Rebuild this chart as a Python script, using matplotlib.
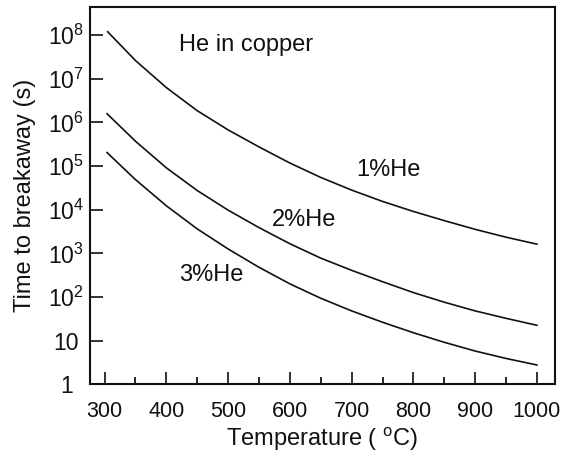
import numpy as np
import matplotlib
matplotlib.use("Agg")
import matplotlib.pyplot as plt
from matplotlib.ticker import FixedLocator, MultipleLocator

# ─── Style ──────────────────────────────────────────────
plt.rcParams["font.family"] = ["Liberation Sans", "DejaVu Sans"]
plt.rcParams["mathtext.fontset"] = "custom"
plt.rcParams["mathtext.rm"] = "Liberation Sans"
plt.rcParams["mathtext.it"] = "Liberation Sans"
plt.rcParams["mathtext.default"] = "rm"

# ─── Data: log10 of breakaway time (s) vs temperature (°C) ─
temp_1 = [305, 350, 400, 450, 500, 550, 600, 650, 700, 750, 800, 850, 900, 950, 1000]
logt_1 = [8.08, 7.42, 6.80, 6.27, 5.83, 5.44, 5.07, 4.74, 4.45, 4.19, 3.96, 3.75, 3.55, 3.37, 3.21]

temp_2 = [304, 350, 400, 450, 500, 550, 600, 650, 700, 750, 800, 850, 900, 950, 1000]
logt_2 = [6.20, 5.57, 4.96, 4.44, 3.99, 3.59, 3.22, 2.89, 2.61, 2.35, 2.10, 1.88, 1.68, 1.51, 1.35]

temp_3 = [304, 350, 400, 450, 500, 550, 600, 650, 700, 750, 800, 850, 900, 950, 1000]
logt_3 = [5.31, 4.69, 4.09, 3.56, 3.10, 2.68, 2.30, 1.97, 1.68, 1.42, 1.18, 0.96, 0.76, 0.59, 0.44]

curve_labels = ["1%He", "2%He", "3%He"]
ytick_vals = [10.0 ** k for k in range(9)]
ytick_text = ["1", "10"] + [f"$10^{{{k}}}$" for k in range(2, 9)]
xtick_vals = [300, 400, 500, 600, 700, 800, 900, 1000]

# ─── Plot ───────────────────────────────────────────────
fig = plt.figure(figsize=(5.61, 4.59), dpi=100)
ax = fig.add_axes([0.160, 0.163, 0.829, 0.822])

ink = "#111111"
for T, lt in [(temp_1, logt_1), (temp_2, logt_2), (temp_3, logt_3)]:
    ax.plot(T, 10.0 ** np.array(lt), color=ink, lw=1.2)

ax.set_yscale("log")
ax.set_xlim(276, 1029)
ax.set_ylim(1, 10 ** 8.65)

ax.yaxis.set_major_locator(FixedLocator(ytick_vals))
ax.yaxis.set_minor_locator(FixedLocator([]))
ax.set_yticklabels(ytick_text)
ax.set_xticks(xtick_vals)
ax.xaxis.set_minor_locator(MultipleLocator(50))

fs = 17
ax.tick_params(axis="both", which="major", direction="in", length=9, width=1.2,
               labelsize=15.5, colors=ink)
ax.tick_params(axis="x", which="minor", direction="in", length=5, width=1.2)
ax.tick_params(axis="x", which="major", pad=12)
ax.tick_params(axis="y", which="major", pad=17)
ax.tick_params(axis="y", which="major", labelsize=16.5)
for lbl in ax.get_yticklabels():
    lbl.set_horizontalalignment("center")

for s in ax.spines.values():
    s.set_linewidth(1.5)
    s.set_color(ink)

ax.set_xlabel("Temperature ( $^{o}$C)", fontsize=fs, color=ink, labelpad=3)
ax.set_ylabel("Time to breakaway (s)", fontsize=fs, color=ink, labelpad=9)

ax.text(421, 10 ** 7.78, "He in copper", fontsize=fs, color=ink, va="center")
ax.text(707, 10 ** 4.91, curve_labels[0], fontsize=fs, color=ink, va="center")
ax.text(571, 10 ** 3.76, curve_labels[1], fontsize=fs, color=ink, va="center")
ax.text(421, 10 ** 2.50, curve_labels[2], fontsize=fs, color=ink, va="center")

fig.savefig("out.png", dpi=100)
